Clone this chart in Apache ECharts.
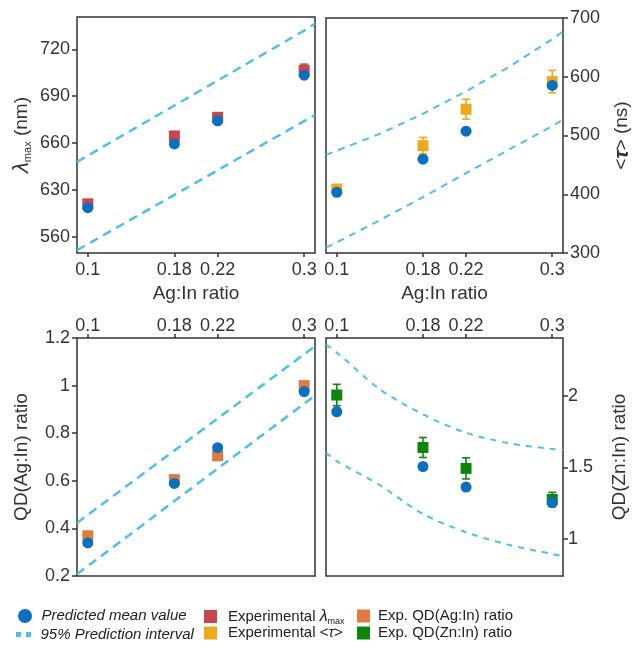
<!DOCTYPE html>
<html><head><meta charset="utf-8">
<script src="https://cdn.jsdelivr.net/npm/echarts@6/dist/echarts.min.js"></script>
<style>html,body{margin:0;padding:0;background:#fff}#c{width:635px;height:650px}</style>
</head><body><div id="c"></div>
<script>
// ---- data ----
const ratios = [0.1, 0.18, 0.22, 0.3];
const xTicks = [0.1, 0.18, 0.22, 0.3];
const intervalX = [0.09, 0.1, 0.14, 0.18, 0.22, 0.26, 0.3, 0.31];

const lambdaTicks = [600, 630, 660, 690, 720];
const lambdaTickLabels = ['560', '630', '660', '690', '720'];
const lambdaPred = [618.5, 659.4, 674.2, 703.4];
const lambdaExp = [621, 664.5, 676.4, 706.5];
const lambdaErr = [2, 2.5, 3, 4];
const lambdaUpper = [647.9, 651.9, 668, 684, 700, 716, 732, 736.4];
const lambdaLower = [591.3, 595.2, 611, 626.7, 642.5, 658.3, 674, 677.9];

const tauTicks = [300, 400, 500, 600, 700];
const tauPred = [403.4, 459.6, 507.3, 585.2];
const tauExp = [409, 482.7, 544.7, 591.7];
const tauErr = [5, 14, 17, 19];
const tauUpper = [467, 474, 503, 537, 575, 617, 664, 677];
const tauLower = [309, 318, 356, 395, 436, 476, 516, 527];

const agTicks = [0.2, 0.4, 0.6, 0.8, 1, 1.2];
const agPred = [0.339, 0.589, 0.739, 0.975];
const agExp = [0.369, 0.605, 0.705, 1.0];
const agUpper = [0.423, 0.457, 0.592, 0.727, 0.862, 0.997, 1.132, 1.165];
const agLower = [0.208, 0.242, 0.378, 0.515, 0.651, 0.788, 0.924, 0.958];

const znTicks = [1, 1.5, 2];
const znPred = [1.89, 1.507, 1.363, 1.255];
const znExp = [2.007, 1.64, 1.494, 1.276];
const znErr = [0.075, 0.07, 0.074, 0.05];
const znUpper = [2.36, 2.305, 2.047, 1.872, 1.743, 1.67, 1.63, 1.625];
const znLower = [1.604, 1.545, 1.376, 1.175, 1.047, 0.958, 0.895, 0.878];

// ---- styles ----
const FONT = '"Liberation Sans", Arial, sans-serif';
const C_PRED = '#0A6FBE', C_INT = '#4DBEEE', C_RED = '#C8464E', C_YEL = '#EDA91C', C_ORA = '#E07A42', C_GRN = '#0B850B';
const AX = '#333';

const pair = (xs, ys) => xs.map((x, i) => [x, ys[i]]);

function xAx(gi, pos, margin) {
  return { type: 'value', gridIndex: gi, position: pos, min: 0.09, max: 0.31,
    axisLine: { show: false }, splitLine: { show: false },
    axisTick: { show: true, customValues: xTicks, length: 4, lineStyle: { color: AX, width: 1.5 } },
    axisLabel: { customValues: xTicks, fontSize: 18, color: '#333', fontFamily: FONT, margin: margin,
      formatter: v => String(v) } };
}
function yAx(gi, pos, min, max, ticks, fmt, margin) {
  return { type: 'value', gridIndex: gi, position: pos, min: min, max: max,
    axisLine: { show: false }, splitLine: { show: false },
    axisTick: { show: true, customValues: ticks, length: 5, lineStyle: { color: AX, width: 1.5 } },
    axisLabel: { customValues: ticks, fontSize: 18, color: '#333', fontFamily: FONT, margin: margin,
      formatter: fmt || (v => String(v)) } };
}
function pred(gi, ys) {
  return { name: 'Predicted mean value', type: 'scatter', xAxisIndex: gi, yAxisIndex: gi, z: 5,
    symbol: 'circle', symbolSize: 11, itemStyle: { color: C_PRED, opacity: 1 }, data: pair(ratios, ys) };
}
function exp(gi, name, ys, color) {
  return { name: name, type: 'scatter', xAxisIndex: gi, yAxisIndex: gi, z: 3,
    symbol: 'rect', symbolSize: 11, itemStyle: { color: color, opacity: 1 }, data: pair(ratios, ys) };
}
function band(gi, ys, dash, w, smooth) {
  return { name: '95% Prediction interval', type: 'line', xAxisIndex: gi, yAxisIndex: gi, z: 2,
    symbol: 'none', smooth: smooth, lineStyle: { color: C_INT, width: w, type: dash },
    itemStyle: { color: C_INT }, data: pair(intervalX, ys) };
}
function err(gi, ys, es, color) {
  return { type: 'custom', xAxisIndex: gi, yAxisIndex: gi, z: 3, silent: true,
    data: ratios.map((r, i) => [r, ys[i] - es[i], ys[i] + es[i]]),
    encode: { x: 0, y: [1, 2] },
    renderItem(params, api) {
      const lo = api.coord([api.value(0), api.value(1)]);
      const hi = api.coord([api.value(0), api.value(2)]);
      const w = 4, st = { stroke: color, lineWidth: 1.6 };
      return { type: 'group', children: [
        { type: 'line', shape: { x1: lo[0], y1: lo[1], x2: hi[0], y2: hi[1] }, style: st },
        { type: 'line', shape: { x1: lo[0] - w, y1: lo[1], x2: lo[0] + w, y2: lo[1] }, style: st },
        { type: 'line', shape: { x1: hi[0] - w, y1: hi[1], x2: hi[0] + w, y2: hi[1] }, style: st }
      ] };
    } };
}

const gridBase = { show: true, borderColor: AX, borderWidth: 1.5, backgroundColor: 'transparent' };
const nameStyle = { fontSize: 19, color: '#333', fontFamily: FONT };

const xAxes = [xAx(0, 'bottom', 8), xAx(1, 'bottom', 8), xAx(2, 'top', 3), xAx(3, 'top', 3)];
[0, 1].forEach(i => Object.assign(xAxes[i], { name: 'Ag:In ratio', nameLocation: 'middle', nameGap: 31, nameTextStyle: nameStyle }));

const yAxes = [
  yAx(0, 'left', 589.5, 740.7, lambdaTicks, v => lambdaTickLabels[lambdaTicks.indexOf(v)], 7),
  yAx(1, 'right', 300, 700, tauTicks, null, 7),
  yAx(2, 'left', 0.2, 1.2, agTicks, null, 7),
  yAx(3, 'right', 0.741, 2.406, znTicks, null, 5)
];
Object.assign(yAxes[0], { name: '{i|λ}{s|max}{n| (nm)}', nameLocation: 'middle', nameGap: 44, nameRotate: 90,
  nameTextStyle: Object.assign({}, nameStyle, { rich: {
    i: { fontSize: 22, fontStyle: 'italic', color: '#333', fontFamily: FONT },
    s: { fontSize: 11, color: '#333', fontFamily: FONT, padding: [12, 0, 0, 0] },
    n: { fontSize: 19, color: '#333', fontFamily: FONT } } }) });
Object.assign(yAxes[1], { name: '{n|<}{t|τ}{n|> (ns)}', nameLocation: 'middle', nameGap: 49, nameRotate: 90,
  nameTextStyle: Object.assign({}, nameStyle, { rich: {
    n: { fontSize: 19, color: '#333', fontFamily: FONT },
    t: { fontSize: 20, fontStyle: 'italic', fontWeight: 'bold', color: '#333', fontFamily: FONT } } }) });
Object.assign(yAxes[2], { name: 'QD(Ag:In) ratio', nameLocation: 'middle', nameGap: 46, nameRotate: 90, nameTextStyle: nameStyle });
Object.assign(yAxes[3], { name: 'QD(Zn:In) ratio', nameLocation: 'middle', nameGap: 47, nameRotate: 90, nameTextStyle: nameStyle });

const legendText = { fontSize: 15, color: '#222', fontFamily: FONT };
function leg(left, top, w, h, item, extra) {
  return Object.assign({ left: left, top: top, orient: 'horizontal', padding: 0, itemWidth: w, itemHeight: h,
    selectedMode: false, textStyle: Object.assign({}, legendText), data: [item] }, extra || {});
}
const legends = [
  leg(18, 608.5, 15, 14, { name: 'Predicted mean value', icon: 'circle' },
    { textStyle: Object.assign({}, legendText, { fontStyle: 'italic', padding: [0, 0, 0, 4] }) }),
  leg(16, 627, 18, 5, { name: '95% Prediction interval', icon: 'path://M0,0H6V6H0Z M12,0H18V6H12Z', itemStyle: { color: C_INT } },
    { textStyle: Object.assign({}, legendText, { fontStyle: 'italic', padding: [0, 0, 0, 3] }) }),
  leg(204, 608.5, 13, 13, { name: 'Experimental λmax', icon: 'rect' },
    { formatter: () => '{n|Experimental }{i|λ}{s|max}',
      textStyle: Object.assign({}, legendText, { padding: [0, 0, 0, 6], rich: {
        n: { fontSize: 15, color: '#222', fontFamily: FONT },
        i: { fontSize: 16, fontStyle: 'italic', color: '#222', fontFamily: FONT },
        s: { fontSize: 9, color: '#222', fontFamily: FONT, padding: [10, 0, 0, 0] } } }) }),
  leg(204, 625.5, 13, 13, { name: 'Experimental <τ>', icon: 'rect' },
    { formatter: () => '{n|Experimental <}{i|τ}{n|>}',
      textStyle: Object.assign({}, legendText, { padding: [0, 0, 0, 6], rich: {
        n: { fontSize: 15, color: '#222', fontFamily: FONT },
        i: { fontSize: 15, fontStyle: 'italic', color: '#222', fontFamily: FONT } } }) }),
  leg(357, 608.5, 13, 13, { name: 'Exp. QD(Ag:In) ratio', icon: 'rect' },
    { textStyle: Object.assign({}, legendText, { padding: [0, 0, 0, 3] }) }),
  leg(357, 625.5, 13, 13, { name: 'Exp. QD(Zn:In) ratio', icon: 'rect' },
    { textStyle: Object.assign({}, legendText, { padding: [0, 0, 0, 3] }) })
];

const option = {
  animation: false,
  backgroundColor: '#fff',
  grid: [
    Object.assign({ left: 77, top: 17, width: 238, height: 236 }, gridBase),
    Object.assign({ left: 326, top: 18, width: 237, height: 235 }, gridBase),
    Object.assign({ left: 77, top: 338, width: 238, height: 238 }, gridBase),
    Object.assign({ left: 326, top: 338, width: 237, height: 238 }, gridBase)
  ],
  xAxis: xAxes,
  yAxis: yAxes,
  legend: legends,
  series: [
    band(0, lambdaUpper, [9, 6], 2.5, false), band(0, lambdaLower, [9, 6], 2.5, false),
    err(0, lambdaExp, lambdaErr, C_RED), exp(0, 'Experimental λmax', lambdaExp, C_RED), pred(0, lambdaPred),
    band(1, tauUpper, [7, 6], 2, false), band(1, tauLower, [7, 6], 2, false),
    err(1, tauExp, tauErr, C_YEL), exp(1, 'Experimental <τ>', tauExp, C_YEL), pred(1, tauPred),
    band(2, agUpper, [9, 6], 2.5, false), band(2, agLower, [9, 6], 2.5, false),
    exp(2, 'Exp. QD(Ag:In) ratio', agExp, C_ORA), pred(2, agPred),
    band(3, znUpper, [6, 6], 2, 0.3), band(3, znLower, [6, 6], 2, 0.3),
    err(3, znExp, znErr, C_GRN), exp(3, 'Exp. QD(Zn:In) ratio', znExp, C_GRN), pred(3, znPred)
  ]
};
const chart = echarts.init(document.getElementById('c'), null, { renderer: 'canvas' });
chart.setOption(option);
</script></body></html>
